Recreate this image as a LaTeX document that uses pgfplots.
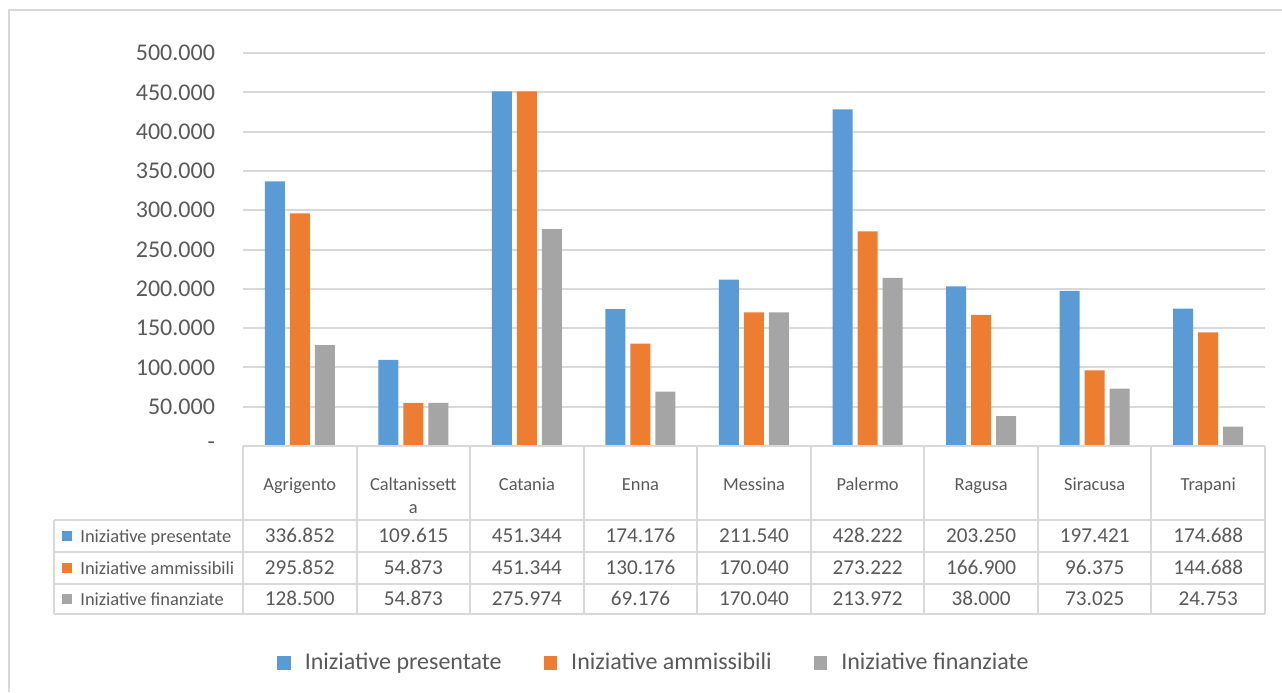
\documentclass[border=0pt]{standalone}
\usepackage{fontspec}
\setmainfont{Carlito}
\usepackage{pgfplots}
\pgfplotsset{compat=1.18}
\definecolor{cblue}{HTML}{5B9BD5}
\definecolor{corange}{HTML}{ED7D31}
\definecolor{cgray}{HTML}{A5A5A5}
\definecolor{gridc}{HTML}{D9D9D9}
\definecolor{txt}{HTML}{595959}
\newcommand\tabfont{\fontsize{9.2}{11}\selectfont}
\newcommand\numfont{\fontsize{10.6}{12}\selectfont}
\pgfplotsset{sqlegend/.style={legend image code/.code={\fill[##1] (0pt,-3.4pt) rectangle (6.8pt,3.4pt);}}}
\begin{document}
\begin{tikzpicture}
\useasboundingbox (0,0) rectangle (641pt,-346pt);
\begin{axis}[
    at={(121.5pt,-223pt)}, anchor=south west,
    scale only axis, width=511pt, height=196.5pt,
    ybar=2.5pt, bar width=10pt,
    every axis plot post/.append style={sqlegend},
    ymin=0, ymax=500000, xmin=-0.5, xmax=8.5,
    axis line style={draw=none},
    major tick length=0pt,
    xtick=\empty,
    ytick={0,50000,...,500000},
    scaled y ticks=false,
    yticklabels={-\hspace{8pt},50.000,100.000,150.000,200.000,250.000,300.000,350.000,400.000,450.000,500.000},
    yticklabel style={font=\fontsize{12}{14}\selectfont, text=txt, xshift=-10.5pt},
    ymajorgrids, grid style={gridc, line width=1pt},
    legend style={at={(0.403,-0.552)}, anchor=center, draw=none, fill=none,
        legend columns=3, font=\fontsize{12}{14}\selectfont, text=txt,
        /tikz/every odd column/.append style={column sep=5pt},
        /tikz/every even column/.append style={column sep=19pt}},
]
% Iniziative presentate
\addplot[fill=cblue, draw=none] coordinates {
    (0,336852) (1,109615) (2,451344) (3,174176) (4,211540)
    (5,428222) (6,203250) (7,197421) (8,174688)};
% Iniziative ammissibili
\addplot[fill=corange, draw=none] coordinates {
    (0,295852) (1,54873) (2,451344) (3,130176) (4,170040)
    (5,273222) (6,166900) (7,96375) (8,144688)};
% Iniziative finanziate
\addplot[fill=cgray, draw=none] coordinates {
    (0,128500) (1,54873) (2,275974) (3,69176) (4,170040)
    (5,213972) (6,38000) (7,73025) (8,24753)};
\legend{Iniziative presentate, Iniziative ammissibili, Iniziative finanziate}
\end{axis}

% frame and data table, in reference pixels (y downwards)
\begin{scope}[x=0.5pt, y=-0.5pt]
\draw[gridc, line width=1pt] (9,692) -- (9,10) -- (1282,10);
\begin{scope}[gridc, line width=1pt]
  \draw (243,446) -- (1265,446);
  \foreach \yy in {520,552,584,614} \draw (54,\yy) -- (1265,\yy);
  \draw (54,520) -- (54,614);
  \foreach \k in {0,...,9} \draw ({243+113.56*\k},446) -- ({243+113.56*\k},614);
\end{scope}
\begin{scope}[every node/.style={font=\tabfont, text=txt, inner sep=0pt}]
  \foreach \n [count=\i from 0] in {Agrigento,,Catania,Enna,Messina,Palermo,Ragusa,Siracusa,Trapani}
    \node[anchor=base] at ({299.78+113.56*\i},490) {\n};
  \node[anchor=base] at ({299.78+113.56},490) {Caltanissett};
  \node[anchor=base] at ({299.78+113.56},513) {a};
  \fill[cblue] (62,531) rectangle (72,541);
  \fill[corange] (62,563) rectangle (72,573);
  \fill[cgray] (62,594) rectangle (72,604);
  \node[anchor=base west] at (80,542) {Iniziative presentate};
  \node[anchor=base west] at (80,574) {Iniziative ammissibili};
  \node[anchor=base west] at (80,605) {Iniziative finanziate};
  \foreach \a/\b/\c [count=\i from 0] in {
      336.852/295.852/128.500, 109.615/54.873/54.873, 451.344/451.344/275.974,
      174.176/130.176/69.176, 211.540/170.040/170.040, 428.222/273.222/213.972,
      203.250/166.900/38.000, 197.421/96.375/73.025, 174.688/144.688/24.753} {
    \node[anchor=base, font=\numfont] at ({299.78+113.56*\i},542) {\a};
    \node[anchor=base, font=\numfont] at ({299.78+113.56*\i},574) {\b};
    \node[anchor=base, font=\numfont] at ({299.78+113.56*\i},605) {\c};
  }
\end{scope}
\end{scope}
\end{tikzpicture}
\end{document}
